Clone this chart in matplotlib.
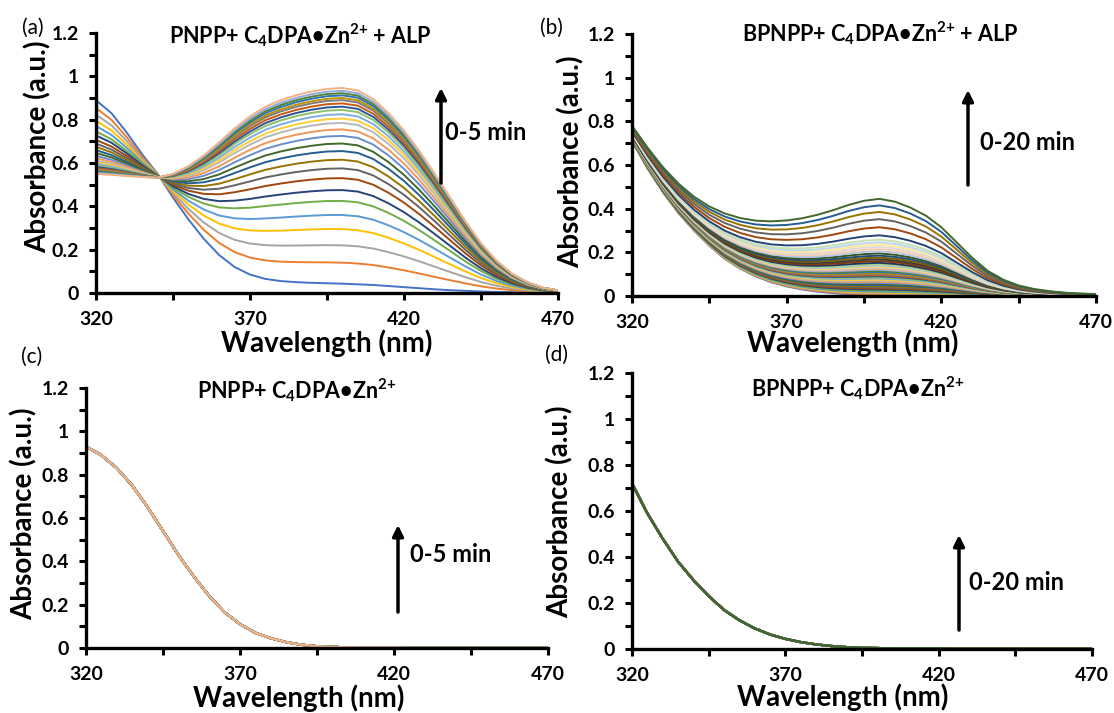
import numpy as np
import matplotlib.pyplot as plt
from matplotlib.ticker import FixedLocator, MultipleLocator, FuncFormatter
from matplotlib.patches import FancyArrowPatch

plt.rcParams['font.family'] = ['Lato', 'DejaVu Sans']
plt.rcParams['font.weight'] = 'bold'
plt.rcParams['mathtext.fontset'] = 'custom'
plt.rcParams['mathtext.rm'] = 'Lato:bold'
plt.rcParams['mathtext.bf'] = 'Lato:bold'
plt.rcParams['mathtext.it'] = 'Lato:bold'
plt.rcParams['mathtext.default'] = 'bf'

# ---------------- data ----------------
wl = np.arange(320, 471, 5)  # nm, 31 points

# (a) PNPP + C4DPA.Zn + ALP : first and last spectrum, peak (400 nm) of every scan
a_first = np.array([0.89, 0.83, 0.74, 0.64, 0.55, 0.44, 0.34, 0.25, 0.175, 0.12, 0.085,
                    0.065, 0.055, 0.05, 0.047, 0.045, 0.043, 0.04, 0.037, 0.032, 0.027,
                    0.022, 0.017, 0.013, 0.01, 0.007, 0.005, 0.004, 0.003, 0.002, 0.001])
a_last = np.array([0.55, 0.545, 0.54, 0.535, 0.532, 0.55, 0.585, 0.635, 0.695, 0.76, 0.815,
                   0.86, 0.89, 0.913, 0.93, 0.942, 0.946, 0.935, 0.895, 0.83, 0.75,
                   0.655, 0.55, 0.44, 0.33, 0.23, 0.15, 0.09, 0.05, 0.025, 0.012])
a_peaks = [0.043, 0.14, 0.22, 0.295, 0.36, 0.425, 0.475, 0.53, 0.575, 0.615, 0.655, 0.69,
           0.725, 0.755, 0.785, 0.805, 0.825, 0.845, 0.86, 0.875, 0.89, 0.90, 0.912,
           0.922, 0.933, 0.946]

# (b) BPNPP + C4DPA.Zn + ALP
b_first = np.array([0.71, 0.585, 0.475, 0.38, 0.30, 0.23, 0.17, 0.125, 0.09, 0.063, 0.044,
                    0.03, 0.02, 0.013, 0.008, 0.005, 0.004, 0.003, 0.003, 0.002, 0.002,
                    0.002, 0.002, 0.002, 0.001, 0.001, 0.001, 0.001, 0.001, 0.001, 0.001])
b_last = np.array([0.78, 0.68, 0.59, 0.515, 0.455, 0.41, 0.378, 0.357, 0.345, 0.342, 0.346,
                   0.356, 0.372, 0.393, 0.417, 0.436, 0.445, 0.432, 0.405, 0.368, 0.315,
                   0.245, 0.175, 0.115, 0.075, 0.048, 0.032, 0.022, 0.015, 0.011, 0.009])
b_peaks = [0.004, 0.008, 0.012, 0.016, 0.02, 0.025, 0.03, 0.035, 0.04, 0.045, 0.05, 0.055,
           0.06, 0.065, 0.07, 0.075, 0.08, 0.085, 0.09, 0.095, 0.10, 0.105, 0.11, 0.115,
           0.12, 0.125, 0.13, 0.135, 0.14, 0.145, 0.152, 0.16, 0.168, 0.176, 0.185, 0.195,
           0.205, 0.215, 0.225, 0.235, 0.246, 0.258, 0.278, 0.315, 0.352, 0.385, 0.415, 0.445]

# (c) PNPP + C4DPA.Zn, 0-5 min, no change
c_spec = np.array([0.93, 0.89, 0.83, 0.75, 0.65, 0.54, 0.43, 0.33, 0.24, 0.165, 0.11,
                   0.07, 0.045, 0.027, 0.015, 0.008, 0.005, 0.003, 0.002, 0.002, 0.002,
                   0.001, 0.001, 0.001, 0.001, 0.001, 0.001, 0.001, 0.001, 0.001, 0.001])
c_scans = 26

# (d) BPNPP + C4DPA.Zn, 0-20 min, no change
d_spec = np.array([0.72, 0.59, 0.48, 0.38, 0.30, 0.23, 0.17, 0.125, 0.09, 0.063, 0.044,
                   0.03, 0.02, 0.013, 0.008, 0.005, 0.004, 0.003, 0.002, 0.002, 0.002,
                   0.001, 0.001, 0.001, 0.001, 0.001, 0.001, 0.001, 0.001, 0.001, 0.001])
d_scans = 48

x_ticks = [320, 370, 420, 470]
titles = [r'PNPP+ C$_{\text{4}}$DPA•Zn$^{\text{2+}}$ + ALP',
          r'BPNPP+ C$_{\text{4}}$DPA•Zn$^{\text{2+}}$ + ALP',
          r'PNPP+ C$_{\text{4}}$DPA•Zn$^{\text{2+}}$',
          r'BPNPP+ C$_{\text{4}}$DPA•Zn$^{\text{2+}}$']
times = ['0-5 min', '0-20 min', '0-5 min', '0-20 min']
letters = ['(a)', '(b)', '(c)', '(d)']

# excel-like series colours
base = ['#4472C4', '#ED7D31', '#A5A5A5', '#FFC000', '#5B9BD5', '#70AD47']
dark50 = ['#264478', '#9E480E', '#636363', '#997300', '#255E91', '#43682B']
light40 = ['#698ED0', '#F1975A', '#B7B7B7', '#FFCD33', '#7CAFDD', '#8CC168']
dark25 = ['#2F5597', '#C55A11', '#7B7B7B', '#BF9000', '#2E75B6', '#548235']
light60 = ['#8FAADC', '#F4B183', '#C9C9C9', '#FFD966', '#9DC3E6', '#A9D18E']
dark75 = ['#203864', '#843C0C', '#3B3B3B', '#7F6000', '#1F4E79', '#385723']
light80 = ['#B4C7E7', '#F8CBAD', '#DBDBDB', '#FFE699', '#BDD7EE', '#C5E0B4']
pal = base + dark50 + light40 + dark25 + light60 + dark75 + light80 + dark50

# ---------------- layout (pixels of the 1114x713 picture) ----------------
W, H = 1114, 713
fig = plt.figure(figsize=(W / 100, H / 100), dpi=100)


def box(l, t, r, b):
    return [l / W, 1 - b / H, (r - l) / W, (b - t) / H]


def fp(x, y):
    return (x / W, 1 - y / H)


boxes = [box(96, 33, 558, 293), box(632, 34, 1096, 296),
         box(86, 388, 548, 648), box(632, 373, 1092, 649)]
axes = [fig.add_axes(b) for b in boxes]


def style(ax):
    ax.set_xlim(320, 470)
    ax.set_ylim(0, 1.2)
    for s in ['top', 'right']:
        ax.spines[s].set_visible(False)
    for s in ['left', 'bottom']:
        ax.spines[s].set_linewidth(2.4)
    ax.xaxis.set_major_locator(FixedLocator(x_ticks))
    ax.xaxis.set_minor_locator(FixedLocator([345, 395, 445]))
    ax.yaxis.set_major_locator(MultipleLocator(0.2))
    ax.yaxis.set_minor_locator(MultipleLocator(0.1))
    ax.yaxis.set_major_formatter(FuncFormatter(lambda v, p: f'{v:g}'))
    ax.tick_params(which='both', direction='out', width=2.2, length=5)
    ax.tick_params(axis='x', labelsize=14, pad=8)
    ax.tick_params(axis='y', labelsize=14, pad=7)
    for lbl in ax.get_xticklabels() + ax.get_yticklabels():
        lbl.set_fontweight('bold')


def mix(first, last, peaks):
    i400 = list(wl).index(400)
    out = []
    for p in peaks:
        f = (p - first[i400]) / (last[i400] - first[i400])
        out.append(first + f * (last - first))
    return out


for i, y in enumerate(mix(a_first, a_last, a_peaks)):
    axes[0].plot(wl, y, color=pal[i], lw=1.4)
for i, y in enumerate(mix(b_first, b_last, b_peaks)):
    axes[1].plot(wl, y, color=pal[i], lw=1.4)
for i in range(c_scans):
    axes[2].plot(wl, c_spec, color=pal[i], lw=1.6)
for i in range(d_scans):
    axes[3].plot(wl, d_spec, color=pal[i], lw=1.6)

for ax in axes:
    style(ax)

# titles
for (x, y), t in zip([(300, 35), (880, 33), (297, 390), (858, 388)], titles):
    fig.text(*fp(x, y), t, ha='center', va='center', fontsize=15.5)

# panel letters
for (x, y), t in zip([(22, 28), (540, 28), (21, 357), (545, 355)], letters):
    fig.text(*fp(x, y), t, ha='left', va='center', fontsize=15, fontweight='normal')

# axis labels
for (x, y) in [(327, 343), (853, 343), (299, 698), (843, 697)]:
    fig.text(*fp(x, y), 'Wavelength (nm)', ha='center', va='center', fontsize=20)
for (x, y) in [(38, 147), (571, 162), (24, 514), (560, 512)]:
    fig.text(*fp(x, y), 'Absorbance (a.u.)', ha='center', va='center', fontsize=20,
             rotation=90)

# arrows with time labels
arrows = [(441, 183, 88, 445, 133), (968, 185, 90, 980, 142),
          (398, 612, 525, 410, 555), (959, 630, 535, 969, 583)]
for (x, y0, y1, tx, ty), t in zip(arrows, times):
    fig.add_artist(FancyArrowPatch(fp(x, y0), fp(x, y1), transform=fig.transFigure,
                                   arrowstyle='-|>', mutation_scale=16, lw=2.5,
                                   color='k', shrinkA=0, shrinkB=0))
    fig.text(*fp(tx, ty), t, ha='left', va='center', fontsize=17)

fig.savefig('out.png', dpi=100)
